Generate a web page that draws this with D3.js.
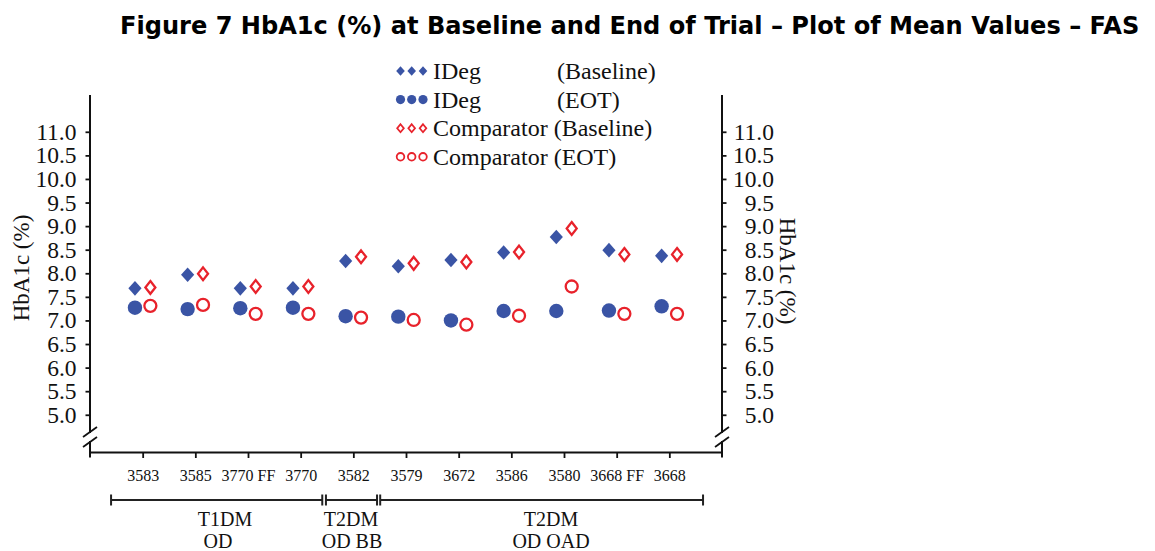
<!DOCTYPE html>
<html>
<head>
<meta charset="utf-8">
<script src="https://cdn.jsdelivr.net/npm/d3@7"></script>
<style>
  html, body { margin: 0; padding: 0; background: #fff; }
  svg { display: block; }
</style>
</head>
<body>
<svg id="chart" width="1155" height="551"></svg>
<script>
// Trial identifiers along the x axis
const trials = ["3583", "3585", "3770 FF", "3770", "3582", "3579", "3672", "3586", "3580", "3668 FF", "3668"];

// Mean HbA1c (%) per trial
const idegBaseline = [7.68, 7.97, 7.68, 7.68, 8.26, 8.15, 8.28, 8.44, 8.77, 8.49, 8.37];
const idegEOT      = [7.27, 7.24, 7.26, 7.27, 7.09, 7.08, 7.00, 7.20, 7.20, 7.21, 7.30];
const compBaseline = [7.70, 7.99, 7.72, 7.72, 8.35, 8.21, 8.24, 8.45, 8.95, 8.40, 8.40];
const compEOT      = [7.31, 7.33, 7.14, 7.14, 7.06, 7.01, 6.91, 7.10, 7.72, 7.14, 7.14];

// Y axis tick values
const yTicks = [5.0, 5.5, 6.0, 6.5, 7.0, 7.5, 8.0, 8.5, 9.0, 9.5, 10.0, 10.5, 11.0];

// Trial groups: label lines and span in category units
const groups = [
  { lines: ["T1DM", "OD"],     from: 0.40, to: 4.41, cx: [225, 218] },
  { lines: ["T2DM", "OD BB"],  from: 4.48, to: 5.45, cx: [351, 352] },
  { lines: ["T2DM", "OD OAD"], from: 5.51, to: 11.64, cx: [551, 551] }
];

const legendItems = [
  { shape: "diamond", filled: true,  name: "IDeg",       tag: "(Baseline)" },
  { shape: "circle",  filled: true,  name: "IDeg",       tag: "(EOT)" },
  { shape: "diamond", filled: false, name: "Comparator", tag: "(Baseline)" },
  { shape: "circle",  filled: false, name: "Comparator", tag: "(EOT)" }
];

const BLUE = "#3a54a5";
const RED = "#e8222b";
const SERIF = "'Liberation Serif', 'Times New Roman', serif";

const svg = d3.select("#chart");

const plotL = 90, plotR = 722, plotT = 95, plotB = 452.5;

const x = d3.scalePoint().domain(trials).range([plotL, plotR]).padding(1);
const xc = d3.scaleLinear().domain([0, trials.length + 1]).range([plotL, plotR]);
const y = d3.scaleLinear().domain([4.2, 11.78]).range([plotB, plotT]);

// ---- title ----
const title = svg.append("text")
  .attr("x", 120).attr("y", 34)
  .attr("font-family", "'DejaVu Sans', Verdana, sans-serif")
  .attr("font-weight", "bold")
  .attr("font-size", 20)
  .attr("fill", "#000")
  .text("Figure 7 HbA1c (%) at Baseline and End of Trial \u2013 Plot of Mean Values \u2013 FAS");
{
  const w = title.node().getComputedTextLength();
  title.attr("font-size", 20 * 1020 / w);
}

// ---- axes ----
const axisG = svg.append("g");
const breakTop = 433, breakBot = 441;

function drawYAxis(xPos, side) {
  const axis = (side === "left" ? d3.axisLeft(y) : d3.axisRight(y))
    .tickValues(yTicks).tickFormat(d3.format(".1f")).tickSize(4.5).tickPadding(9);
  const g = axisG.append("g").attr("transform", `translate(${xPos},0)`).call(axis);
  g.select(".domain").remove();
  g.selectAll(".tick line").attr("stroke", "#111").attr("stroke-width", 1.8);
  g.selectAll(".tick text")
    .attr("font-size", 23.5)
    .attr("font-family", SERIF)
    .attr("fill", "#111");
  if (side === "right") {
    g.selectAll(".tick text").attr("text-anchor", "end").attr("x", 52);
  }
  // axis line with break
  axisG.append("line").attr("x1", xPos).attr("x2", xPos).attr("y1", plotT).attr("y2", breakTop)
    .attr("stroke", "#111").attr("stroke-width", 2);
  axisG.append("line").attr("x1", xPos).attr("x2", xPos).attr("y1", breakBot).attr("y2", plotB + 5)
    .attr("stroke", "#111").attr("stroke-width", 2);
  [breakTop - 1, breakBot + 1].forEach(cy => {
    axisG.append("line")
      .attr("x1", xPos - 7).attr("y1", cy + 5)
      .attr("x2", xPos + 7).attr("y2", cy - 5)
      .attr("stroke", "#111").attr("stroke-width", 1.8);
  });
}
drawYAxis(plotL, "left");
drawYAxis(plotR, "right");

// x axis
const xAxis = d3.axisBottom(x).tickSize(5.5).tickPadding(12);
const xg = axisG.append("g").attr("transform", `translate(0,${plotB})`).call(xAxis);
xg.select(".domain").remove();
xg.selectAll(".tick line").attr("stroke", "#111").attr("stroke-width", 1.8);
xg.selectAll(".tick text")
  .attr("font-family", SERIF)
  .attr("font-size", 16)
  .attr("fill", "#111");
axisG.append("line").attr("x1", plotL).attr("x2", plotR).attr("y1", plotB).attr("y2", plotB)
  .attr("stroke", "#111").attr("stroke-width", 2);

// axis titles
svg.append("text")
  .attr("transform", `translate(29,268) rotate(-90)`)
  .attr("text-anchor", "middle")
  .attr("font-family", SERIF)
  .attr("font-size", 23).attr("fill", "#111")
  .text("HbA1c (%)");
svg.append("text")
  .attr("transform", `translate(780,271) rotate(90)`)
  .attr("text-anchor", "middle")
  .attr("font-family", SERIF)
  .attr("font-size", 23).attr("fill", "#111")
  .text("HbA1c (%)");

// ---- markers ----
function diamondPath(hw, hh) {
  return `M0,${-hh}L${hw},0L0,${hh}L${-hw},0Z`;
}
const marks = svg.append("g");
const off = 7.7;

function plotSeries(values, shape, filled, dx) {
  const sel = marks.selectAll(null).data(values).enter();
  if (shape === "diamond") {
    sel.append("path")
      .attr("transform", (d, i) => `translate(${x(trials[i]) + dx},${y(d)})`)
      .attr("d", filled ? diamondPath(6.6, 7.3) : diamondPath(5, 6.4))
      .attr("fill", filled ? BLUE : "#fff")
      .attr("stroke", filled ? "none" : RED)
      .attr("stroke-width", 2.3);
  } else {
    sel.append("circle")
      .attr("cx", (d, i) => x(trials[i]) + dx)
      .attr("cy", d => y(d))
      .attr("r", filled ? 7.2 : 6)
      .attr("fill", filled ? BLUE : "#fff")
      .attr("stroke", filled ? "none" : RED)
      .attr("stroke-width", 2.3);
  }
}
plotSeries(idegBaseline, "diamond", true, -off);
plotSeries(compBaseline, "diamond", false, off);
plotSeries(idegEOT, "circle", true, -off);
plotSeries(compEOT, "circle", false, off);

// ---- legend ----
const leg = svg.append("g");
legendItems.forEach((it, k) => {
  const cy = 71 + k * 28.6;
  [400.5, 411.7, 423].forEach(cx => {
    if (it.shape === "diamond") {
      leg.append("path")
        .attr("transform", `translate(${cx},${cy})`)
        .attr("d", it.filled ? diamondPath(4.3, 4.8) : diamondPath(3.3, 4))
        .attr("fill", it.filled ? BLUE : "#fff")
        .attr("stroke", it.filled ? "none" : RED)
        .attr("stroke-width", 1.8);
    } else {
      leg.append("circle")
        .attr("cx", cx).attr("cy", cy)
        .attr("r", it.filled ? 4.6 : 3.8)
        .attr("fill", it.filled ? BLUE : "#fff")
        .attr("stroke", it.filled ? "none" : RED)
        .attr("stroke-width", 1.8);
    }
  });
  const t = leg.append("text")
    .attr("x", 433).attr("y", cy + 8)
    .attr("font-family", SERIF)
    .attr("font-size", 24).attr("fill", "#111");
  if (it.name === "IDeg") {
    t.text(it.name);
    leg.append("text")
      .attr("x", 557).attr("y", cy + 8)
      .attr("font-family", SERIF)
      .attr("font-size", 24).attr("fill", "#111")
      .text(it.tag);
  } else {
    t.text(it.name + " " + it.tag);
  }
});

// ---- group brackets ----
const grp = svg.append("g");
const by = 500;
groups.forEach(gr => {
  const x1 = xc(gr.from), x2 = xc(gr.to);
  grp.append("line").attr("x1", x1).attr("x2", x2).attr("y1", by).attr("y2", by)
    .attr("stroke", "#222").attr("stroke-width", 2);
  [x1, x2].forEach(xx => grp.append("line")
    .attr("x1", xx).attr("x2", xx).attr("y1", by - 5.5).attr("y2", by + 5.5)
    .attr("stroke", "#222").attr("stroke-width", 2));
  gr.lines.forEach((ln, j) => {
    grp.append("text")
      .attr("x", gr.cx[j]).attr("y", 525.5 + j * 22)
      .attr("text-anchor", "middle")
      .attr("font-family", SERIF)
      .attr("font-size", 20).attr("fill", "#111")
      .text(ln);
  });
});
</script>
</body>
</html>
